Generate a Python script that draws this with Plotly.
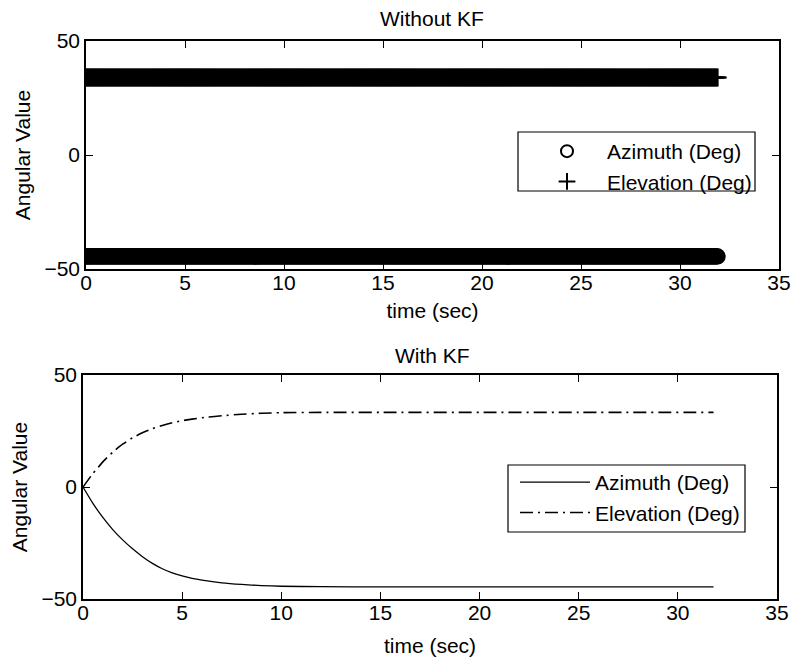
import numpy as np
import plotly.graph_objects as go

# ---------------- data ----------------
# Top panel (Without KF): raw measurements, sampled densely in time
meas_t_end = 31.9
meas_step = 0.05
az_meas_value = -44.5      # Azimuth (Deg)
el_meas_value = 34.0       # Elevation (Deg)

# Bottom panel (With KF): filtered estimates
kf_t  = [0, 0.5, 1.0, 1.5, 2.0, 2.5, 3.0, 3.5, 4.0, 4.5, 5.0, 5.5, 6.0, 7.0, 8.0, 9.0, 10.0, 12.0, 15.0, 20.0, 25.0, 31.8]
kf_az = [0, -7.3, -13.6, -19.0, -23.6, -27.6, -31.1, -34.1, -36.5, -38.3, -39.7, -40.8, -41.6, -42.8, -43.5, -44.0, -44.3, -44.5, -44.6, -44.6, -44.6, -44.6]
kf_el = [0, 6.0, 11.2, 15.6, 19.1, 22.0, 24.2, 26.0, 27.5, 28.7, 29.6, 30.3, 30.9, 31.8, 32.5, 32.9, 33.2, 33.3, 33.3, 33.3, 33.3, 33.3]

x_ticks = [0, 5, 10, 15, 20, 25, 30, 35]
y_ticks = [-50, 0, 50]

meas_t = np.arange(0, meas_t_end + 1e-9, meas_step)
az_meas = np.full(meas_t.shape, az_meas_value)
el_meas = np.full(meas_t.shape, el_meas_value)

FONT = "Liberation Sans, Arial, Helvetica, sans-serif"
FS = 21
W, H = 793, 663

fig = go.Figure()

fig.add_trace(go.Scatter(
    x=meas_t, y=az_meas, mode="markers", name="Azimuth (Deg)",
    marker=dict(symbol="circle-open", size=14, color="black", line=dict(width=2.2, color="black")),
    xaxis="x", yaxis="y", legend="legend"))
fig.add_trace(go.Scatter(
    x=meas_t, y=el_meas, mode="markers", name="Elevation (Deg)",
    marker=dict(symbol="cross-thin-open", size=13, color="black", line=dict(width=2, color="black")),
    xaxis="x", yaxis="y", legend="legend"))

fig.add_trace(go.Scatter(
    x=kf_t, y=kf_az, mode="lines", name="Azimuth (Deg)",
    line=dict(color="black", width=1.3, shape="spline", smoothing=0.5),
    xaxis="x2", yaxis="y2", legend="legend2"))
fig.add_trace(go.Scatter(
    x=kf_t, y=kf_el, mode="lines", name="Elevation (Deg)",
    line=dict(color="black", width=1.6, dash="13px,5px,2px,5px", shape="spline", smoothing=0.5),
    xaxis="x2", yaxis="y2", legend="legend2"))

axis_common = dict(
    showline=True, linecolor="black", linewidth=1.5, mirror="ticks",
    ticks="inside", ticklen=7, tickwidth=1.3, tickcolor="black",
    showgrid=False, zeroline=False, automargin=False,
    tickfont=dict(family=FONT, size=FS, color="black"),
)

def box(x0, y0, x1, y1):
    return dict(type="rect", xref="paper", yref="paper",
                x0=x0/W, x1=x1/W, y0=1-y1/H, y1=1-y0/H,
                line=dict(color="black", width=1.2), fillcolor="white", layer="above")

fig.update_layout(
    width=W, height=H,
    margin=dict(l=0, r=0, t=0, b=0),
    paper_bgcolor="white", plot_bgcolor="white",
    font=dict(family=FONT, size=FS, color="black"),
    xaxis=dict(domain=[86/W, 779/W], range=[0, 35], tickvals=x_ticks, anchor="y",
               ticklabelstandoff=-6,
               title=dict(text="time (sec)", standoff=10, font=dict(size=FS)), **axis_common),
    yaxis=dict(domain=[1-269/H, 1-41/H], range=[-50, 50], tickvals=y_ticks, anchor="x",
               title=dict(text="Angular Value", standoff=8, font=dict(size=FS)), **axis_common),
    xaxis2=dict(domain=[83/W, 777/W], range=[0, 35], tickvals=x_ticks, anchor="y2",
                ticklabelstandoff=-6,
                title=dict(text="time (sec)", standoff=15, font=dict(size=FS)), **axis_common),
    yaxis2=dict(domain=[1-599/H, 1-375/H], range=[-50, 50], tickvals=y_ticks, anchor="x2",
                title=dict(text="Angular Value", standoff=8, font=dict(size=FS)), **axis_common),
    legend=dict(x=527/W, y=1-131/H, xanchor="left", yanchor="top",
                borderwidth=0, bgcolor="rgba(0,0,0,0)",
                font=dict(family=FONT, size=FS), itemsizing="constant",
                itemwidth=70, tracegroupgap=0),
    legend2=dict(x=515/W, y=1-462/H, xanchor="left", yanchor="top",
                 borderwidth=0, bgcolor="rgba(0,0,0,0)",
                 font=dict(family=FONT, size=FS), itemwidth=70,
                 tracegroupgap=0),
    showlegend=True,
    shapes=[box(518, 132, 755, 191), box(508, 465, 745, 532)],
    annotations=[
        dict(text="Without KF", x=432/W, y=1-18/H, xref="paper", yref="paper",
             showarrow=False, font=dict(family=FONT, size=FS), xanchor="center", yanchor="middle"),
        dict(text="With KF", x=432/W, y=1-355/H, xref="paper", yref="paper",
             showarrow=False, font=dict(family=FONT, size=FS), xanchor="center", yanchor="middle"),
    ],
)

fig.write_html("out.html")
